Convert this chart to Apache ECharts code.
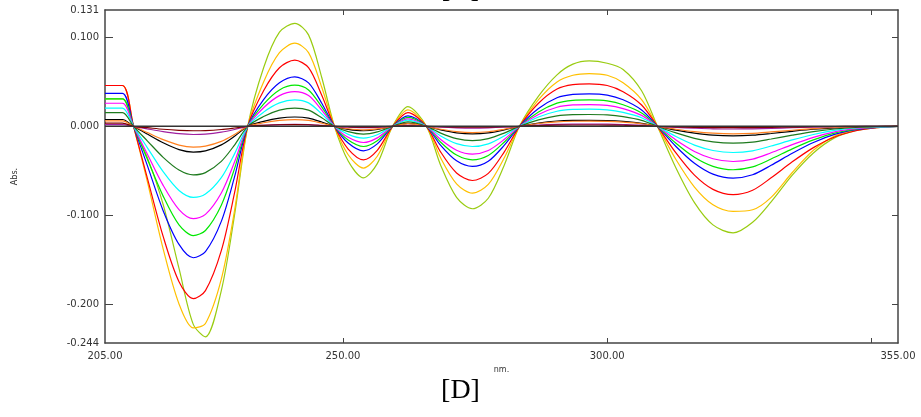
<!DOCTYPE html>
<html>
<head>
<meta charset="utf-8">
<script src="https://cdn.jsdelivr.net/npm/echarts@6/dist/echarts.min.js"></script>
<style>html,body{margin:0;padding:0;background:#fff}#c{width:921px;height:417px}</style>
</head>
<body>
<div id="c"></div>
<script>
const nm = [205,208.3,210.4,213,216,219,221.7,224,227,229.5,232,235,238,240.9,243.5,246,248.4,251,253.9,256.5,259.4,262.3,265.8,268.5,271.5,274.5,277.5,280.5,283.4,287,290.5,293.5,296.6,300,303,306.5,309.5,313,316.5,320,323.8,327.5,331,335,339,343,347,351,355];

const yellowGreen = [0.031,0.031,0,-0.035,-0.088,-0.160,-0.223,-0.237,-0.185,-0.100,0,0.066,0.106,0.116,0.103,0.055,0,-0.039,-0.058,-0.042,0,0.0223,0,-0.044,-0.080,-0.0928,-0.081,-0.044,0,0.034,0.058,0.070,0.0737,0.071,0.064,0.040,0,-0.047,-0.086,-0.111,-0.120,-0.108,-0.085,-0.055,-0.030,-0.013,-0.005,-0.0015,0];
const gold = [0.046,0.046,0,-0.062,-0.138,-0.200,-0.227,-0.222,-0.172,-0.095,0,0.050,0.083,0.0936,0.083,0.044,0,-0.032,-0.047,-0.0337,0,0.0186,0,-0.0357,-0.0647,-0.0752,-0.0654,-0.0357,0,0.030,0.050,0.0575,0.0594,0.0575,0.049,0.030,0,-0.0374,-0.0684,-0.0883,-0.0958,-0.094,-0.080,-0.052,-0.027,-0.011,-0.004,-0.001,0];
const red = [0.046,0.046,0,-0.058,-0.124,-0.175,-0.194,-0.185,-0.140,-0.075,0,0.040,0.066,0.0745,0.066,0.035,0,-0.0256,-0.0377,-0.027,0,0.0155,0,-0.029,-0.0525,-0.061,-0.053,-0.029,0,0.026,0.042,0.047,0.0478,0.046,0.039,0.024,0,-0.030,-0.055,-0.071,-0.077,-0.072,-0.058,-0.040,-0.024,-0.012,-0.005,-0.0015,0];
const blue = [0.037,0.037,0,-0.044,-0.095,-0.133,-0.148,-0.141,-0.107,-0.057,0,0.030,0.049,0.0557,0.049,0.026,0,-0.0188,-0.0276,-0.0198,0,0.0118,0,-0.0215,-0.0389,-0.0452,-0.0393,-0.0215,0,0.020,0.0322,0.036,0.0366,0.0352,0.0299,0.0184,0,-0.0227,-0.0416,-0.0538,-0.0583,-0.0545,-0.0439,-0.0303,-0.0182,-0.0091,-0.0038,-0.0011,0];
const green = [0.031,0.031,0,-0.0368,-0.0786,-0.111,-0.123,-0.1173,-0.0888,-0.0476,0,0.0249,0.041,0.0463,0.041,0.0218,0,-0.0154,-0.0227,-0.0163,0,0.010,0,-0.0179,-0.0324,-0.0377,-0.0328,-0.0179,0,0.0162,0.0262,0.0293,0.0298,0.0287,0.0243,0.015,0,-0.0191,-0.0349,-0.0451,-0.0489,-0.0457,-0.0368,-0.0254,-0.0153,-0.0076,-0.0032,-0.0009,0];
const magenta = [0.026,0.026,0,-0.0311,-0.0665,-0.0938,-0.104,-0.0992,-0.0751,-0.0402,0,0.0209,0.0346,0.039,0.0346,0.0183,0,-0.0124,-0.0182,-0.013,0,0.0084,0,-0.0149,-0.0269,-0.0313,-0.0272,-0.0149,0,0.0133,0.0215,0.0241,0.0245,0.0236,0.02,0.0123,0,-0.0154,-0.0283,-0.0365,-0.0396,-0.037,-0.0298,-0.0206,-0.0124,-0.0062,-0.0026,-0.0008,0];
const cyan = [0.0205,0.0205,0,-0.0239,-0.0511,-0.0722,-0.080,-0.0763,-0.0578,-0.031,0,0.016,0.0264,0.0298,0.0264,0.014,0,-0.009,-0.0133,-0.0095,0,0.007,0,-0.0108,-0.0195,-0.0227,-0.0197,-0.0108,0,0.0105,0.017,0.019,0.0193,0.0186,0.0157,0.0097,0,-0.0115,-0.0211,-0.0272,-0.0295,-0.0276,-0.0222,-0.0153,-0.0092,-0.0046,-0.0019,-0.0006,0];
const darkGreen = [0.0155,0.0155,0,-0.0163,-0.0349,-0.0492,-0.0546,-0.0521,-0.0394,-0.0211,0,0.011,0.0182,0.0205,0.0182,0.0096,0,-0.006,-0.0088,-0.0063,0,0.005,0,-0.0076,-0.0138,-0.016,-0.0139,-0.0076,0,0.0072,0.0117,0.0131,0.0133,0.0128,0.0109,0.0067,0,-0.0074,-0.0136,-0.0175,-0.019,-0.0178,-0.0143,-0.0099,-0.0059,-0.003,-0.0012,-0.0004,0];
const black = [0.0077,0.0077,0,-0.0087,-0.0185,-0.0262,-0.029,-0.0277,-0.0209,-0.0112,0,0.0056,0.0093,0.0105,0.0093,0.0049,0,-0.0034,-0.005,-0.0036,0,0.0034,0,-0.004,-0.0073,-0.0085,-0.0074,-0.004,0,0.0037,0.006,0.0067,0.0068,0.0065,0.0055,0.0034,0,-0.0042,-0.0076,-0.0099,-0.0107,-0.01,-0.0081,-0.0056,-0.0033,-0.0017,-0.0007,-0.0002,0];
const orange = [0.0062,0.0062,0,-0.007,-0.015,-0.0211,-0.0234,-0.0223,-0.0169,-0.0091,0,0.004,0.0066,0.0075,0.0066,0.0035,0,-0.0027,-0.004,-0.0029,0,0.003,0,-0.0033,-0.006,-0.007,-0.0061,-0.0033,0,0.0032,0.0051,0.0057,0.0058,0.0056,0.0047,0.0029,0,-0.0033,-0.006,-0.0077,-0.0084,-0.0079,-0.0063,-0.0044,-0.0026,-0.0013,-0.0005,-0.0002,0];
const purple = [0.002,0.002,0,-0.0028,-0.0059,-0.0083,-0.0092,-0.0088,-0.0066,-0.0036,0,0.0012,0.002,0.0022,0.002,0.001,0,-0.001,-0.0015,-0.0011,0,0.001,0,-0.001,-0.0017,-0.002,-0.0017,-0.001,0,0.0014,0.0022,0.0025,0.0025,0.0024,0.002,0.0013,0,-0.0012,-0.0021,-0.0028,-0.003,-0.0028,-0.0023,-0.0016,-0.0009,-0.0005,-0.0002,0,0];
const maroon = [0.0036,0.0036,0,-0.0015,-0.0033,-0.0045,-0.005,-0.0048,-0.0036,-0.0019,0,0.0011,0.0018,0.002,0.0018,0.0009,0,-0.0005,-0.0008,-0.0006,0,0.0005,0,-0.0005,-0.0009,-0.001,-0.0009,-0.0005,0,0.0008,0.0013,0.0015,0.0015,0.0014,0.0012,0.0008,0,-0.0006,-0.0011,-0.0014,-0.0015,-0.0014,-0.0011,-0.0008,-0.0005,-0.0002,0,0,0];
const baselineNm = [205, 355];
const baselineAbs = [0, 0];

const xLabelValues = [205, 250, 300, 355];
const xTickValues = [250, 300, 350];
const yLabelValues = [0.131, 0.100, 0.000, -0.100, -0.200, -0.244];
const yTickValues = [0.100, 0.000, -0.100, -0.200];

const seriesList = [
  {name:'s1', values: yellowGreen, color:'#99cc11'},
  {name:'s2', values: gold, color:'#ffc000'},
  {name:'s3', values: red, color:'#ff0000'},
  {name:'s4', values: blue, color:'#0000ff'},
  {name:'s5', values: green, color:'#00e800'},
  {name:'s6', values: magenta, color:'#ff00ff'},
  {name:'s7', values: cyan, color:'#00ffff'},
  {name:'s8', values: darkGreen, color:'#1e7a1e'},
  {name:'s9', values: black, color:'#000000'},
  {name:'s10', values: orange, color:'#ff8020'},
  {name:'s11', values: purple, color:'#a020a0'},
  {name:'s12', values: maroon, color:'#800000'}
];

const axisColor = '#444';
const labelStyle = {fontFamily:'DejaVu Sans', fontSize:10, color:'#333'};

const chart = echarts.init(document.getElementById('c'), null, {renderer:'canvas'});
const series = seriesList.map(s => ({
  name: s.name, type:'line', xAxisIndex:0, yAxisIndex:0,
  data: nm.map((x,i)=>[x, s.values[i]]),
  showSymbol:false, smooth:0.3, animation:false,
  lineStyle:{color:s.color, width:1.2}, itemStyle:{color:s.color}
}));
series.push({
  name:'base', type:'line', data: baselineNm.map((x,i)=>[x, baselineAbs[i]]),
  showSymbol:false, animation:false, lineStyle:{color:'#333', width:1.5}
});

chart.setOption({
  animation:false,
  title:[
    {text:'[D]', left:'center', top:372, textStyle:{fontFamily:'Liberation Serif', fontSize:28, fontWeight:'normal', color:'#000'}},
    {text:'[D]', left:'center', top:-29, textStyle:{fontFamily:'Liberation Serif', fontSize:28, fontWeight:'normal', color:'#000'}}
  ],
  grid:{left:105, right:23, top:10, bottom:74, containLabel:false},
  xAxis:[
    {type:'value', min:205, max:355, position:'bottom',
     axisLine:{show:true, onZero:false, lineStyle:{color:axisColor, width:1.5}},
     axisTick:{show:true, inside:true, length:5, customValues:xTickValues, lineStyle:{color:axisColor}},
     axisLabel:{show:true, customValues:xLabelValues, formatter:v=>Number(v).toFixed(2), margin:8, ...labelStyle},
     splitLine:{show:false},
     name:'nm.', nameLocation:'middle', nameGap:19, nameTextStyle:{fontFamily:'DejaVu Sans', fontSize:8, color:'#333'}},
    {type:'value', min:205, max:355, position:'top',
     axisLine:{show:true, onZero:false, lineStyle:{color:axisColor, width:1.5}},
     axisTick:{show:true, inside:true, length:5, customValues:xTickValues, lineStyle:{color:axisColor}},
     axisLabel:{show:false}, splitLine:{show:false}}
  ],
  yAxis:[
    {type:'value', min:-0.244, max:0.131, position:'left',
     axisLine:{show:true, onZero:false, lineStyle:{color:axisColor, width:1.5}},
     axisTick:{show:true, inside:true, length:8, customValues:yTickValues, lineStyle:{color:axisColor}},
     axisLabel:{show:true, customValues:yLabelValues, formatter:v=>Number(v).toFixed(3), margin:6, ...labelStyle},
     splitLine:{show:false},
     name:'Abs.', nameLocation:'middle', nameGap:86, nameTextStyle:{fontFamily:'DejaVu Sans', fontSize:8, color:'#333'}},
    {type:'value', min:-0.244, max:0.131, position:'right',
     axisLine:{show:true, onZero:false, lineStyle:{color:axisColor, width:1.5}},
     axisTick:{show:true, inside:true, length:6, customValues:yTickValues, lineStyle:{color:axisColor}},
     axisLabel:{show:false}, splitLine:{show:false}}
  ],
  series: series
});
</script>
</body>
</html>
